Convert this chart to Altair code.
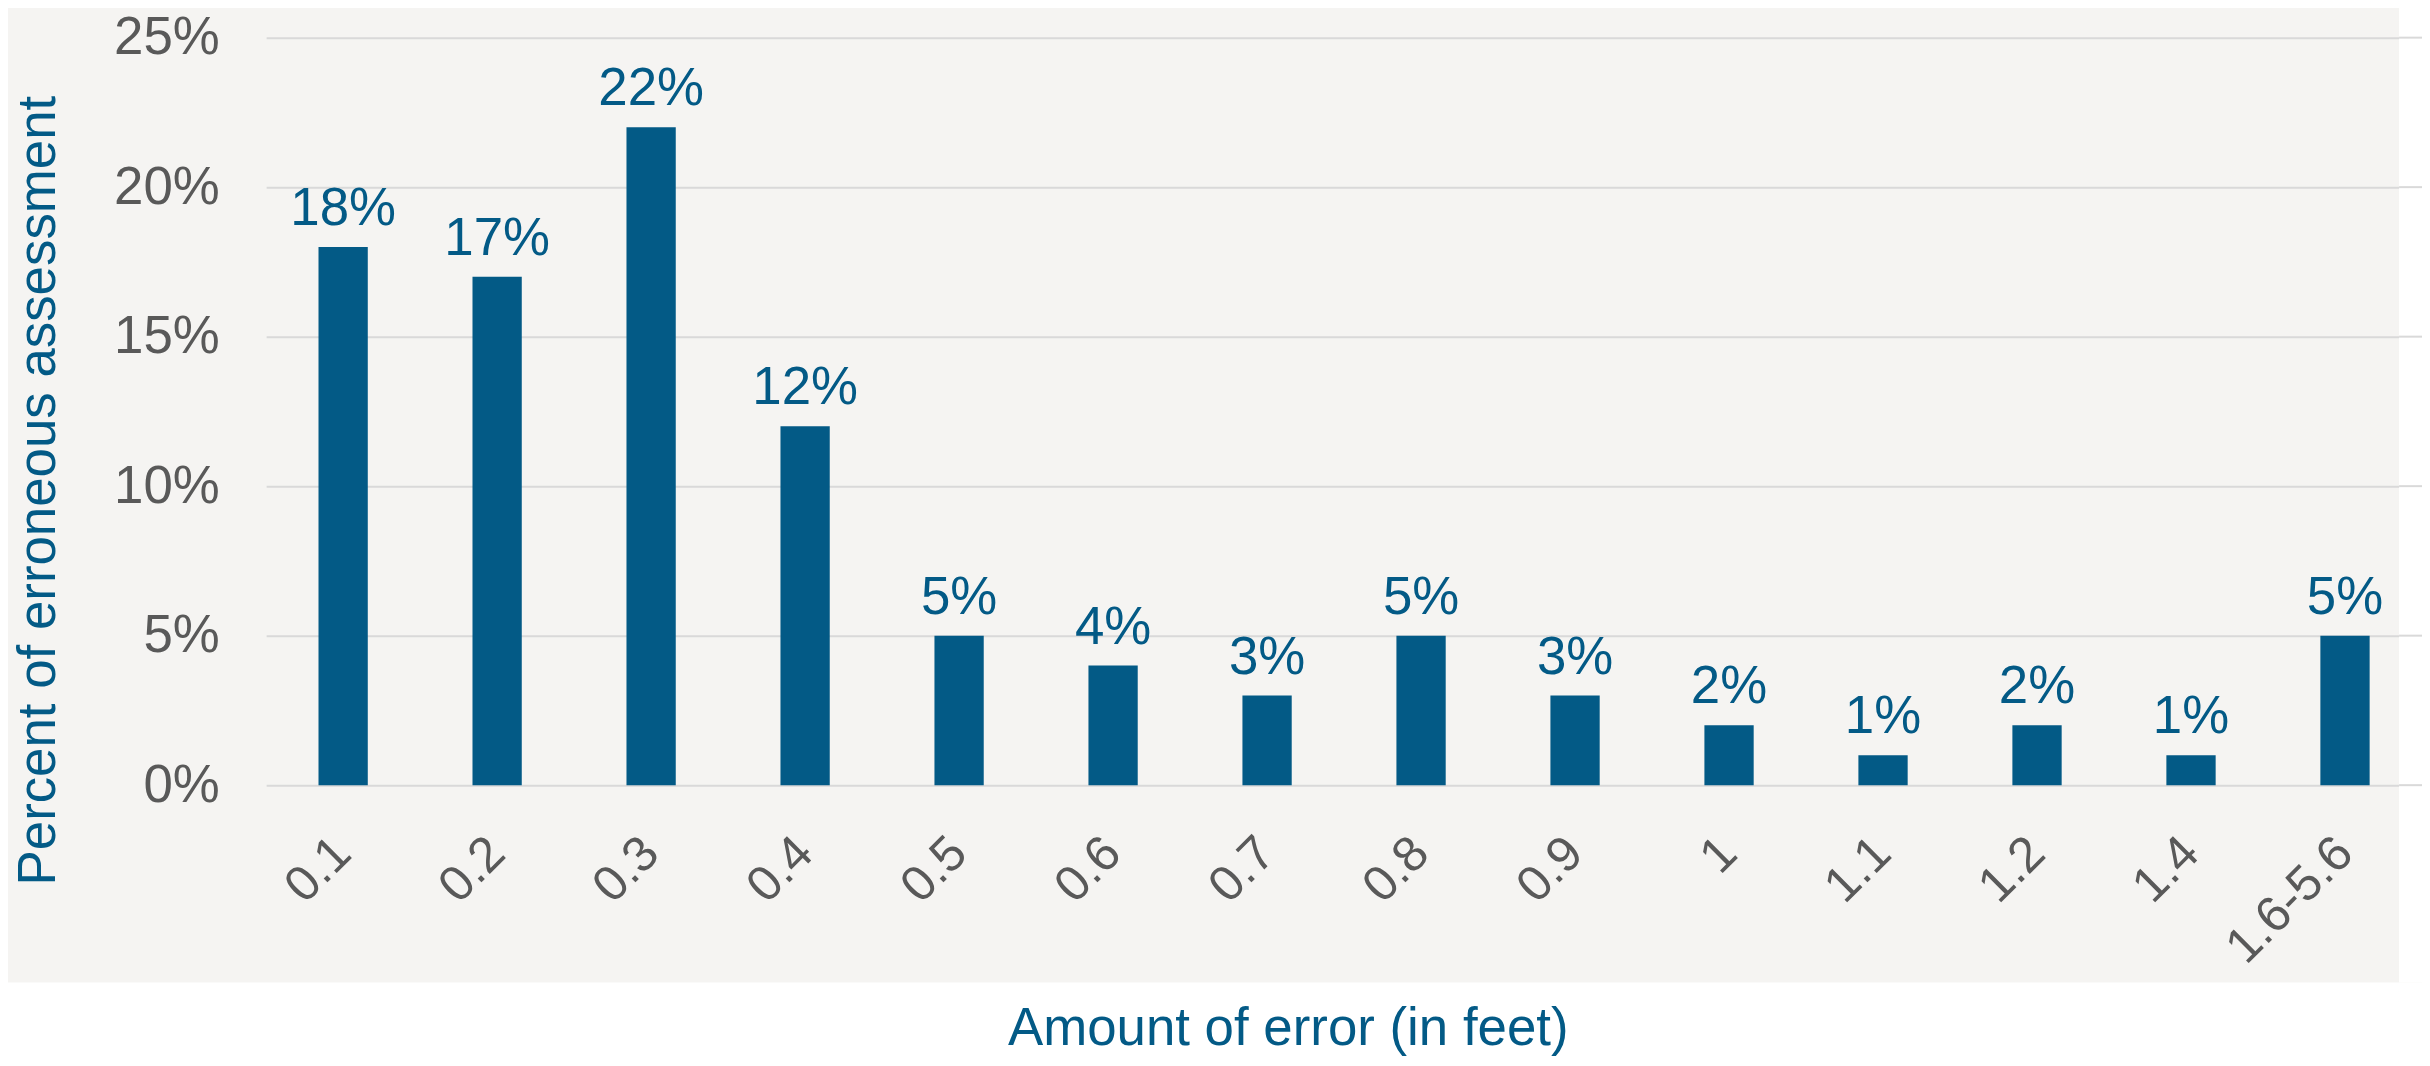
import altair as alt
import pandas as pd

categories = ["0.1", "0.2", "0.3", "0.4", "0.5", "0.6", "0.7", "0.8", "0.9",
              "1", "1.1", "1.2", "1.4", "1.6-5.6"]
percents = [18, 17, 22, 12, 5, 4, 3, 5, 3, 2, 1, 2, 1, 5]
y_ticks = [0, 5, 10, 15, 20, 25]

df = pd.DataFrame({"error": categories, "pct": [p / 100 for p in percents]})
ticks_df = pd.DataFrame({"pct": [v / 100 for v in y_ticks]})

BLUE = "#035a86"
GRAY_TXT = "#595959"
GRID = "#d9d9d9"
PANEL = "#f5f4f2"
FONT = "Liberation Sans"

x = alt.X(
    "error:N",
    sort=categories,
    scale=alt.Scale(paddingInner=0.68, paddingOuter=0.34),
    axis=alt.Axis(
        title="Amount of error (in feet)",
        labelAngle=-45,
        labelAlign="right",
        labelBaseline="middle",
        labelFontSize=50,
        labelColor=GRAY_TXT,
        labelFont=FONT,
        labelPadding=60,
        labelLimit=400,
        labelOverlap=False,
        ticks=False,
        domain=False,
        titleFontSize=53,
        titleColor=BLUE,
        titleFont=FONT,
        titleFontWeight="normal",
        titleX=1025,
        titleY=260,
        titleAlign="center",
        titleBaseline="alphabetic",
        zindex=1,
    ),
)

y = alt.Y(
    "pct:Q",
    scale=alt.Scale(domain=[0, 0.25], nice=False),
    axis=alt.Axis(
        values=[v / 100 for v in y_ticks],
        format=".0%",
        title="Percent of erroneous assessment",
        labelFontSize=53,
        labelColor=GRAY_TXT,
        labelFont=FONT,
        labelPadding=47,
        ticks=False,
        domain=False,
        grid=True,
        gridColor=GRID,
        gridWidth=2,
        titleFontSize=53,
        titleColor=BLUE,
        titleFont=FONT,
        titleFontWeight="normal",
        titleX=-212,
        titleY=454,
        titleAngle=270,
        titleAlign="center",
        titleBaseline="alphabetic",
    ),
)

base = alt.Chart(df).encode(x=x, y=y)

bars = base.mark_bar(color=BLUE)
labels = base.mark_text(
    color=BLUE, fontSize=53, font=FONT, baseline="alphabetic", dy=-22
).encode(text=alt.Text("pct:Q", format=".0%"))

# white page area below and to the right of the grey panel
band = alt.Chart(pd.DataFrame({"k": [0]})).mark_rect(color="white").encode(
    x=alt.value(-270), x2=alt.value(2200), y=alt.value(948), y2=alt.value(1100)
)
strip = alt.Chart(pd.DataFrame({"k": [0]})).mark_rect(color="white").encode(
    x=alt.value(2140), x2=alt.value(2200), y=alt.value(-40), y2=alt.value(948)
)
# gridlines continuing over the white strip
grid_ext = alt.Chart(ticks_df).mark_rule(color=GRID, strokeWidth=2).encode(
    y=alt.Y("pct:Q"), x=alt.value(2140), x2=alt.value(2163)
)

chart = (
    alt.layer(band, strip, grid_ext, bars, labels)
    .properties(
        width=2163,
        height=750,
        autosize=alt.AutoSizeParams(type="none"),
        padding={"left": 259, "top": 28, "right": 0, "bottom": 272},
    )
    .configure(background=PANEL)
    .configure_view(stroke=None)
)

chart.save("out.html", embed_options={"renderer": "svg", "actions": False})
